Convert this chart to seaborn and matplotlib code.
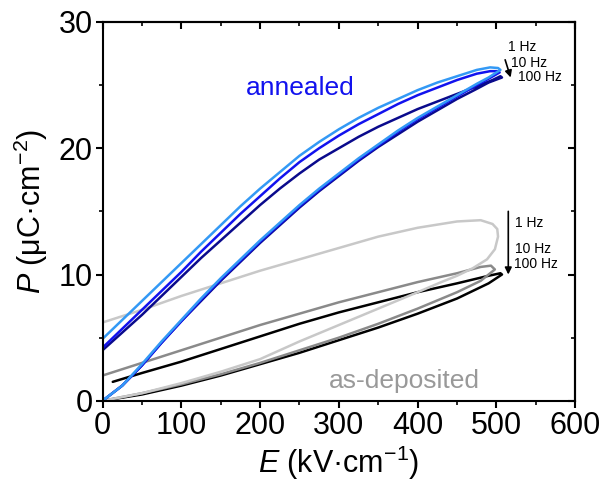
import pandas as pd
import matplotlib
matplotlib.use("Agg")
import matplotlib.pyplot as plt
from matplotlib.ticker import MultipleLocator
import seaborn as sns

# annealed film, 1 / 10 / 100 Hz (lower = charging branch, upper = discharging branch)
ann1_lo_E = [0, 25, 50, 75, 100, 125, 150, 175, 200, 225, 250, 275, 300, 325, 350,
             375, 400, 425, 450, 475, 490, 505]
ann1_lo_P = [0, 1.2, 2.9, 4.7, 6.4, 8.1, 9.7, 11.2, 12.7, 14.1, 15.5, 16.8, 18.0, 19.2, 20.3,
             21.4, 22.4, 23.3, 24.2, 25.1, 25.6, 26.2]
ann1_up_E = [0, 25, 50, 75, 100, 125, 150, 175, 200, 225, 250, 275, 300, 325, 350,
             375, 400, 425, 450, 475, 492, 502]
ann1_up_P = [4.9, 6.4, 7.9, 9.4, 10.9, 12.4, 13.9, 15.4, 16.8, 18.1, 19.4, 20.5, 21.5, 22.4, 23.2,
             23.9, 24.6, 25.2, 25.7, 26.2, 26.4, 26.35]

ann10_lo_E = [0, 25, 50, 75, 100, 125, 150, 175, 200, 225, 250, 275, 300, 325, 350,
              375, 400, 425, 450, 475, 490, 504]
ann10_lo_P = [0, 1.2, 2.8, 4.6, 6.3, 8.0, 9.6, 11.1, 12.6, 14.0, 15.4, 16.7, 17.9, 19.1, 20.2,
              21.3, 22.3, 23.2, 24.1, 25.0, 25.5, 26.0]
ann10_up_E = [0, 25, 50, 75, 100, 125, 150, 175, 200, 225, 250, 275, 300, 325, 350,
              375, 400, 425, 450, 475, 492, 501]
ann10_up_P = [4.2, 5.7, 7.2, 8.7, 10.2, 11.8, 13.3, 14.8, 16.2, 17.6, 18.9, 20.0, 21.0, 21.9, 22.7,
              23.5, 24.2, 24.8, 25.4, 25.9, 26.1, 26.1]

ann100_lo_E = [0, 25, 50, 75, 100, 125, 150, 175, 200, 225, 250, 275, 300, 325, 350,
               375, 400, 425, 450, 475, 490, 507]
ann100_lo_P = [0, 1.2, 2.8, 4.6, 6.3, 7.9, 9.5, 11.0, 12.5, 13.9, 15.3, 16.6, 17.8, 19.0, 20.1,
               21.1, 22.1, 23.0, 23.9, 24.7, 25.2, 25.6]
ann100_up_E = [0, 25, 50, 75, 100, 125, 150, 175, 200, 225, 250, 275, 300, 325, 350,
               375, 400, 425, 450, 475, 495, 505]
ann100_up_P = [4.0, 5.4, 6.8, 8.3, 9.8, 11.3, 12.7, 14.1, 15.5, 16.8, 18.0, 19.1, 20.0, 20.9, 21.7,
               22.4, 23.1, 23.7, 24.3, 24.9, 25.4, 25.7]

# as-deposited film
dep1_lo_E = [0, 50, 100, 150, 200, 250, 300, 350, 400, 430, 450, 470, 488, 498, 502]
dep1_lo_P = [0, 0.6, 1.4, 2.3, 3.3, 4.7, 6.0, 7.3, 8.6, 9.4, 9.9, 10.5, 11.2, 12.0, 13.0]
dep1_up_E = [0, 50, 100, 150, 200, 250, 300, 350, 400, 450, 480, 495, 501]
dep1_up_P = [6.2, 7.2, 8.3, 9.3, 10.3, 11.2, 12.1, 13.0, 13.7, 14.2, 14.3, 14.0, 13.6]

dep10_lo_E = [0, 50, 100, 150, 200, 250, 300, 350, 400, 450, 480, 498]
dep10_lo_P = [0, 0.6, 1.3, 2.1, 3.0, 4.0, 5.0, 6.1, 7.3, 8.6, 9.5, 10.4]
dep10_up_E = [0, 50, 100, 150, 200, 250, 300, 350, 400, 450, 480, 493]
dep10_up_P = [2.0, 3.0, 4.0, 5.0, 6.0, 6.9, 7.8, 8.6, 9.4, 10.1, 10.6, 10.7]

dep100_lo_E = [0, 50, 100, 150, 200, 250, 300, 350, 400, 450, 490, 507]
dep100_lo_P = [0, 0.5, 1.2, 2.0, 2.9, 3.8, 4.8, 5.8, 6.9, 8.1, 9.3, 10.0]
dep100_up_E = [13, 50, 100, 150, 200, 250, 300, 350, 400, 450, 490, 505]
dep100_up_P = [1.5, 2.2, 3.1, 4.1, 5.1, 6.1, 7.0, 7.8, 8.6, 9.3, 9.9, 10.1]

loops = [
    ("dep100", dep100_lo_E, dep100_lo_P, dep100_up_E, dep100_up_P, "#000000"),
    ("dep10", dep10_lo_E, dep10_lo_P, dep10_up_E, dep10_up_P, "#8a8a8a"),
    ("dep1", dep1_lo_E, dep1_lo_P, dep1_up_E, dep1_up_P, "#c8c8c8"),
    ("ann100", ann100_lo_E, ann100_lo_P, ann100_up_E, ann100_up_P, "#0a0a8c"),
    ("ann10", ann10_lo_E, ann10_lo_P, ann10_up_E, ann10_up_P, "#1212ee"),
    ("ann1", ann1_lo_E, ann1_lo_P, ann1_up_E, ann1_up_P, "#3399f5"),
]

rows = []
for name, lo_E, lo_P, up_E, up_P, _ in loops:
    E = list(lo_E) + list(reversed(up_E))
    P = list(lo_P) + list(reversed(up_P))
    for e, p in zip(E, P):
        rows.append({"series": name, "E": e, "P": p})
df = pd.DataFrame(rows)

sns.set_style("ticks")
plt.rcParams["font.family"] = ["Liberation Sans", "DejaVu Sans"]
plt.rcParams["mathtext.fontset"] = "custom"
plt.rcParams["mathtext.rm"] = "Liberation Sans"
plt.rcParams["mathtext.it"] = "Liberation Sans:italic"
plt.rcParams["axes.edgecolor"] = "black"
plt.rcParams["xtick.color"] = "black"
plt.rcParams["ytick.color"] = "black"
plt.rcParams["text.color"] = "black"
plt.rcParams["axes.labelcolor"] = "black"

fig = plt.figure(figsize=(6.03, 4.87), dpi=100)
ax = fig.add_axes([0.170, 0.177, 0.784, 0.778])

for name, *_, color in loops:
    sub = df[df["series"] == name]
    sns.lineplot(data=sub, x="E", y="P", sort=False, estimator=None,
                 color=color, linewidth=1.8, ax=ax, legend=False)

ax.set_xlim(0, 600)
ax.set_ylim(0, 30)
ax.xaxis.set_major_locator(MultipleLocator(100))
ax.xaxis.set_minor_locator(MultipleLocator(50))
ax.yaxis.set_major_locator(MultipleLocator(10))
ax.yaxis.set_minor_locator(MultipleLocator(5))

for s in ax.spines.values():
    s.set_linewidth(1.5)
    s.set_visible(True)
    s.set_color("black")
ax.tick_params(which="major", direction="out", length=5, width=1.5,
               labelsize=22, pad=2)
ax.tick_params(which="minor", direction="out", length=3, width=1.2)

top = ax.secondary_xaxis("top")
top.xaxis.set_major_locator(MultipleLocator(100))
top.xaxis.set_minor_locator(MultipleLocator(50))
top.tick_params(which="major", direction="in", length=5, width=1.5, labeltop=False)
top.tick_params(which="minor", direction="in", length=3, width=1.2)
top.spines["top"].set_linewidth(1.5)

right = ax.secondary_yaxis("right")
right.yaxis.set_major_locator(MultipleLocator(10))
right.yaxis.set_minor_locator(MultipleLocator(5))
right.tick_params(which="major", direction="in", length=5, width=1.5, labelright=False)
right.tick_params(which="minor", direction="in", length=3, width=1.2)
right.spines["right"].set_linewidth(1.5)

ax.set_xlabel(r"$\it{E}$ (kV·cm$^{-1}$)", fontsize=22, labelpad=2)
ax.set_ylabel(r"$\it{P}$ (μC·cm$^{-2}$)", fontsize=22, labelpad=6)

ax.text(251, 24.8, "annealed", color="#1212ee", fontsize=19, ha="center", va="center")
ax.text(383, 1.6, "as-deposited", color="#999999", fontsize=19, ha="center", va="center")

# frequency annotations
ax.text(514, 28.0, "1 Hz", fontsize=10, ha="left", va="center")
ax.text(519, 26.75, "10 Hz", fontsize=10, ha="left", va="center")
ax.text(527, 25.65, "100 Hz", fontsize=10, ha="left", va="center")
ax.annotate("", xy=(518, 25.6), xytext=(511, 27.0),
            arrowprops=dict(arrowstyle="-|>", color="black", lw=1.2,
                            mutation_scale=10, shrinkA=0, shrinkB=0))

ax.text(523, 14.1, "1 Hz", fontsize=10, ha="left", va="center")
ax.text(524, 12.0, "10 Hz", fontsize=10, ha="left", va="center")
ax.text(522, 10.8, "100 Hz", fontsize=10, ha="left", va="center")
ax.annotate("", xy=(515, 10.0), xytext=(515, 15.0),
            arrowprops=dict(arrowstyle="-|>", color="black", lw=1.2,
                            mutation_scale=10, shrinkA=0, shrinkB=0))

fig.savefig("out.png", dpi=100)
